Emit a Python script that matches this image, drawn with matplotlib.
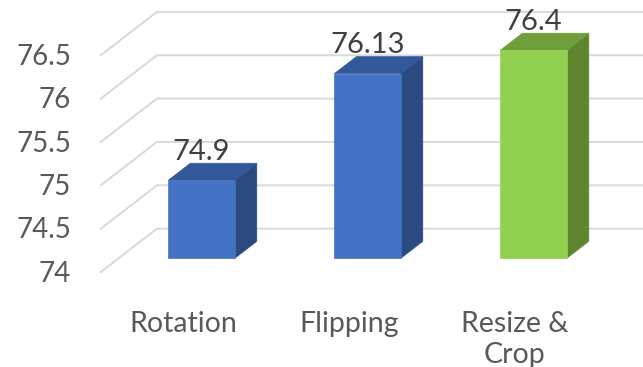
import matplotlib.pyplot as plt
from matplotlib.patches import Polygon

categories = ['Rotation', 'Flipping', 'Resize &\nCrop']
values = [74.9, 76.13, 76.4]
ticks = [74, 74.5, 75, 75.5, 76, 76.5]

front_colors = ['#4472c4', '#4472c4', '#92d050']
top_colors = ['#32589a', '#32589a', '#6f9e3b']
side_colors = ['#2b4a80', '#2b4a80', '#5e8631']

# oblique projection: full floor depth in data units
DX, DY = 0.343, 0.5075
d_front, d_back = 0.327, 0.713
half_w = 0.2
base = 74

plt.rcParams['font.family'] = ['Lato', 'DejaVu Sans']

fig = plt.figure(figsize=(6.43, 3.67), dpi=100)
ax = fig.add_axes([0, 0, 1, 1])
ax.set_xlim(-1.102, 2.771)
ax.set_ylim(72.912, 77.145)
ax.axis('off')

# walls: gridlines run back along the floor edge, then across the back wall
for t in ticks:
    ax.plot([-0.5, -0.5 + DX, 3.0], [t, t + DY, t + DY],
            color='#d9d9d9', lw=1.4, solid_capstyle='butt', zorder=1)
    ax.text(-0.675, t - 0.104, f'{t:g}', ha='right', va='baseline',
            fontsize=20, color='#595959')

for i, (v, fc, tc, sc) in enumerate(zip(values, front_colors, top_colors, side_colors)):
    x0 = i - half_w + d_front * DX
    x1 = i + half_w + d_front * DX
    y0 = base + d_front * DY
    y1 = v + d_front * DY
    ddx = (d_back - d_front) * DX
    ddy = (d_back - d_front) * DY
    front = Polygon([(x0, y0), (x1, y0), (x1, y1), (x0, y1)], closed=True,
                    facecolor=fc, edgecolor=fc, lw=0.5, zorder=3)
    top = Polygon([(x0, y1), (x1, y1), (x1 + ddx, y1 + ddy), (x0 + ddx, y1 + ddy)],
                  closed=True, facecolor=tc, edgecolor=tc, lw=0.5, zorder=3)
    side = Polygon([(x1, y0), (x1 + ddx, y0 + ddy), (x1 + ddx, y1 + ddy), (x1, y1)],
                   closed=True, facecolor=sc, edgecolor=sc, lw=0.5, zorder=3)
    for p in (side, top, front):
        ax.add_patch(p)
    ax.text(i + d_front * DX, v + d_back * DY + 0.04, f'{v:g}', ha='center',
            va='baseline', fontsize=21, color='#404040', zorder=4)
    ax.text(i, 73.56, categories[i], ha='center', va='top',
            fontsize=20.5, color='#595959', linespacing=1.27)

fig.savefig('out.png', dpi=100)
